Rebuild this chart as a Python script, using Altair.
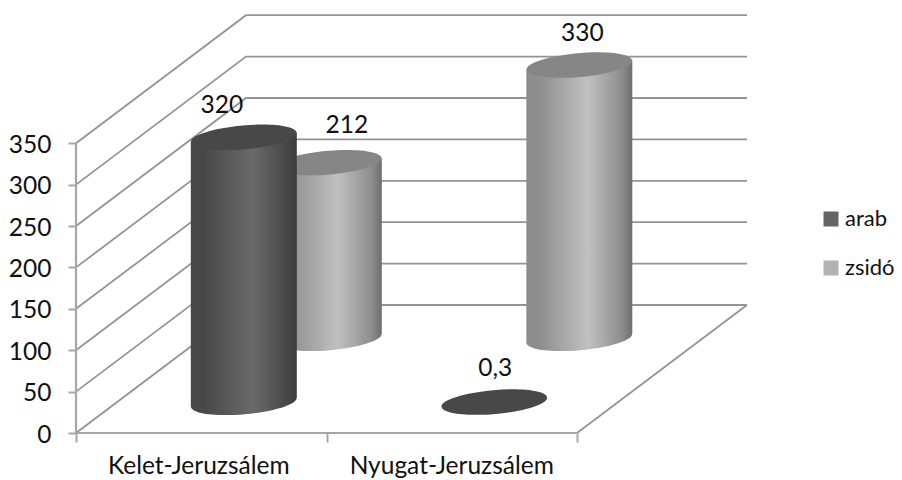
import altair as alt
import pandas as pd

# values
categories = ["Kelet-Jeruzsálem", "Nyugat-Jeruzsálem"]
series = ["arab", "zsidó"]
arab_values = [320, 0.3]
zsido_values = [212, 330]
value_labels = {"arab": ["320", "0,3"], "zsidó": ["212", "330"]}
y_ticks = [0, 50, 100, 150, 200, 250, 300, 350]

# layout of the oblique view, in axis units
PX_X = 250.5              # pixels per category
PX_Y = 0.828              # pixels per value unit
DEPTH_X = 170 / PX_X      # shift of the back wall
DEPTH_Y = 128 / PX_Y
ROW = {"arab": 0.24, "zsidó": 0.74}
W, H = 886, 472
LEFT, BASE = 68, 425      # plot-relative pixel of the front axis origin
x_dom = [-LEFT / PX_X, (W - LEFT) / PX_X]
y_dom = [(BASE - H) / PX_Y, BASE / PX_Y]
HALF_W = 53 / PX_X
TILT = 4.6 / PX_Y
CENTER = 0.507
FONT = "Lato"
FS = 24.5
GRID = "#949494"
AXIS = "#a6a6a6"


def px(cat, depth):
    return cat + depth * DEPTH_X


def py(val, depth):
    return val + depth * DEPTH_Y


x_scale = alt.Scale(domain=x_dom, nice=False, zero=False)
y_scale = alt.Scale(domain=y_dom, nice=False, zero=False)
x_axis = alt.Axis(values=[0, 1, 2], labels=False, domain=False, grid=False, title=None,
                  tickSize=9, tickWidth=2, tickColor=AXIS, offset=BASE - H)
y_axis = alt.Axis(values=y_ticks, domain=False, grid=False, tickSize=8, tickWidth=2, title=None,
                  tickColor=AXIS, labelFont=FONT, labelFontSize=FS, labelColor="#111111",
                  labelPadding=17, labelOffset=2, offset=-LEFT)
X = alt.X("x:Q", scale=x_scale, axis=x_axis)
Y = alt.Y("y:Q", scale=y_scale, axis=y_axis)

# wall and floor lines
rows = []
for v in y_ticks:
    for o, (a, b, c) in enumerate([(0, v, 0), (0, v, 1), (2, v, 1)]):
        rows.append(dict(id=f"w{v}", o=o, x=px(a, c), y=py(b, c)))
for o, (a, b, c) in enumerate([(2, 0, 0), (2, 0, 1)]):
    rows.append(dict(id="side", o=o, x=px(a, c), y=py(b, c)))
walls = (
    alt.Chart(pd.DataFrame(rows))
    .mark_line(color=GRID, strokeWidth=1.8)
    .encode(x=X, y=Y, detail="id:N", order="o:Q")
)

# invisible layer that carries the colour scale and the legend
legend_layer = (
    alt.Chart(pd.DataFrame(dict(s=series, x=[px(0.5, ROW["arab"]), px(1.5, ROW["arab"])],
                                y=[py(0, ROW["arab"]), py(0, ROW["arab"])])))
    .mark_point(filled=True, size=1, opacity=0)
    .encode(
        x=X, y=Y,
        color=alt.Color("s:N", scale=alt.Scale(domain=series, range=["#646464", "#b2b2b2"]),
                        legend=alt.Legend(title=None, orient="none", legendX=812, legendY=200,
                                          symbolType="square", symbolSize=225, symbolOpacity=1,
                                          symbolStrokeWidth=0, rowPadding=27, labelFont=FONT,
                                          labelFontSize=22, labelColor="#111111", labelOffset=3,
                                          labelOpacity=1)),
    )
)

# front axis lines
front = (
    alt.Chart(pd.DataFrame(dict(id=["a", "a", "b", "b"], x=[0, 2, 0, 0], y=[0, 0, 0, y_ticks[-1]])))
    .mark_line(color=AXIS, strokeWidth=2.2)
    .encode(x=X, y=Y, detail="id:N")
)


def stops(a, b, c):
    return alt.Gradient(
        gradient="linear", x1=0, x2=1, y1=0, y2=0,
        stops=[alt.GradientStop(offset=0, color=a), alt.GradientStop(offset=0.12, color=a),
               alt.GradientStop(offset=0.58, color=b), alt.GradientStop(offset=0.9, color=a),
               alt.GradientStop(offset=1, color=c)],
    )


FILLS = {
    "arab": (stops("#484848", "#6a6a6a", "#3c3c3c"), "#484848"),
    "zsidó": (stops("#8e8e8e", "#c0c0c0", "#6e6e6e"), "#868686"),
}
ELLIPSE = "M-1,0A1,0.225,0,1,1,1,0A1,0.225,0,1,1,-1,0Z"
SIZE = 106 ** 2


def ellipse(cx, cy, fill):
    return (
        alt.Chart(pd.DataFrame(dict(x=[cx], y=[cy])))
        .mark_point(shape=ELLIPSE, size=SIZE, filled=True, fill=fill, strokeWidth=0, opacity=1, angle=355)
        .encode(x=X, y=Y)
    )


def cylinder(s, i, val):
    d = ROW[s]
    cx = px(i + CENTER, d)
    base = py(0, d)
    top = py(val, d)
    grad, lid = FILLS[s]
    layers = []
    if val >= 1:
        body = pd.DataFrame(dict(x=[cx - HALF_W, cx + HALF_W],
                                 y=[top - TILT, top + TILT],
                                 y2=[base - TILT, base + TILT]))
        layers.append(ellipse(cx, base, grad))
        layers.append(
            alt.Chart(body).mark_area(fill=grad, orient="vertical", interpolate="linear", opacity=1)
            .encode(x=X, y=Y, y2="y2:Q")
        )
    layers.append(ellipse(cx, top, lid))
    return layers


parts = []
for s, vals in (("zsidó", zsido_values), ("arab", arab_values)):
    for i, v in enumerate(vals):
        parts += cylinder(s, i, v)

# value labels (dx, dy in axis units from the top of each cylinder)
lab_dx = {"arab": [-22 / PX_X, 1 / PX_X], "zsidó": [18 / PX_X, 3 / PX_X]}
lab_dy = {"arab": [31 / PX_Y, 33 / PX_Y], "zsidó": [37 / PX_Y, 31 / PX_Y]}
lab_rows = []
for s, vals in (("arab", arab_values), ("zsidó", zsido_values)):
    for i, v in enumerate(vals):
        lab_rows.append(dict(
            x=px(i + CENTER, ROW[s]) + lab_dx[s][i],
            y=py(v, ROW[s]) + lab_dy[s][i],
            t=value_labels[s][i],
        ))
val_text = (
    alt.Chart(pd.DataFrame(lab_rows))
    .mark_text(font=FONT, fontSize=FS, color="#111111", baseline="middle", align="center")
    .encode(x=X, y=Y, text="t:N")
)
cat_text = (
    alt.Chart(pd.DataFrame(dict(x=[0.5 - 0.01, 1.5], y=[-34 / PX_Y] * 2, t=categories)))
    .mark_text(font=FONT, fontSize=FS, color="#111111", baseline="middle", align="center")
    .encode(x=X, y=Y, text="t:N")
)

chart = alt.layer(legend_layer, walls, front, *parts, val_text, cat_text).properties(
    width=W, height=H, padding=0, autosize=alt.AutoSizeParams(type="none"),
    background="white",
).configure_view(stroke=None)

chart.save("out.html", embed_options={"renderer": "svg", "actions": False})
